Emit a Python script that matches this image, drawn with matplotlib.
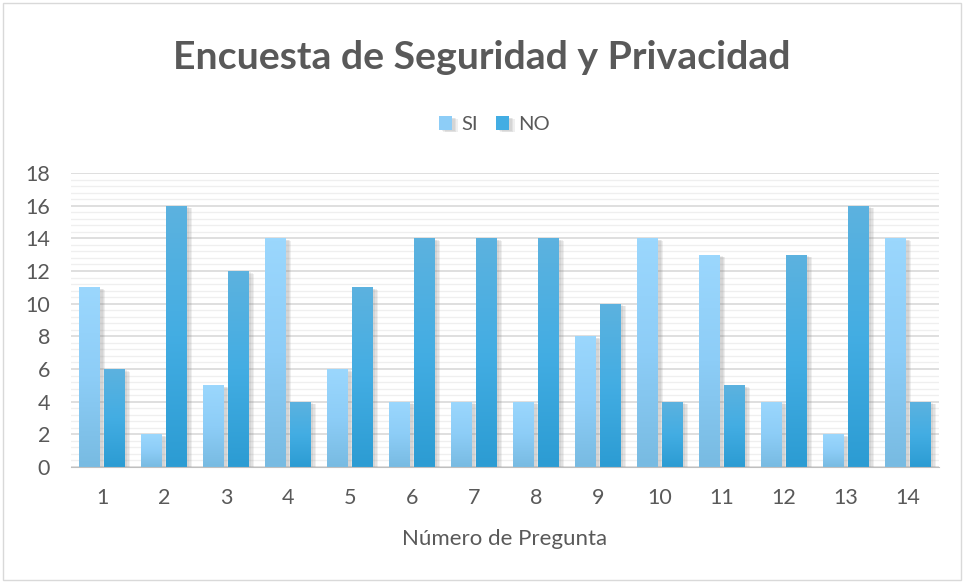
import matplotlib
matplotlib.use("Agg")
import matplotlib.pyplot as plt
import matplotlib.patheffects as pe
from matplotlib.colors import LinearSegmentedColormap
from matplotlib.patches import Rectangle
from matplotlib.ticker import MultipleLocator
import numpy as np

plt.rcParams['font.family'] = ['Lato', 'DejaVu Sans']

preguntas = [str(i) for i in range(1, 15)]
si = [11, 2, 5, 14, 6, 4, 4, 4, 8, 14, 13, 4, 2, 14]
no = [6, 16, 12, 4, 11, 14, 14, 14, 10, 4, 5, 13, 16, 4]

txt = '#595959'
cm_si = LinearSegmentedColormap.from_list('si', ['#78bbe2', '#8dcdf7', '#9bd7fd'])
cm_no = LinearSegmentedColormap.from_list('no', ['#2c9cd3', '#43ade3', '#5cb2df'])

fig = plt.figure(figsize=(9.64, 5.82), dpi=100)
ax = fig.add_axes([0.0737, 0.1976, 0.9003, 0.5051])

x = np.arange(len(preguntas))
w = 0.33
shadow = [pe.SimplePatchShadow(offset=(d, -d * 0.5), shadow_rgbFace='#808080', alpha=0.12)
          for d in (4, 3, 2)] + [pe.Normal()]

grad = np.linspace(0, 1, 64).reshape(-1, 1)
for vals, off, cm, lab, col in [(si, -0.2, cm_si, 'SI', '#8dcdf7'),
                                (no, 0.2, cm_no, 'NO', '#43ade3')]:
    bars = ax.bar(x + off, vals, width=w, color=col, label=lab, zorder=3,
                  path_effects=shadow)
    for b in bars:
        x0, y0 = b.get_x(), b.get_y()
        im = ax.imshow(grad, extent=[x0, x0 + b.get_width(), y0, y0 + b.get_height()],
                       origin='lower', aspect='auto', cmap=cm, zorder=4,
                       interpolation='bilinear')
        im.set_clip_path(b)

ax.set_xlim(-0.5, len(preguntas) - 0.5)
ax.set_ylim(0, 18)
ax.yaxis.set_major_locator(MultipleLocator(2))
ax.yaxis.set_minor_locator(MultipleLocator(0.4))
ax.grid(axis='y', which='major', color='#d9d9d9', linewidth=1.2, zorder=0)
ax.grid(axis='y', which='minor', color='#efefef', linewidth=0.9, zorder=0)
ax.set_axisbelow(True)
ax.set_xticks(x)
ax.set_xticklabels(preguntas)
ax.tick_params(axis='both', which='both', length=0, labelsize=15.5, colors=txt)
ax.tick_params(axis='y', pad=15)
ax.tick_params(axis='x', pad=15)
for s in ['top', 'right', 'left']:
    ax.spines[s].set_visible(False)
ax.spines['bottom'].set_color('#bfbfbf')
ax.spines['bottom'].set_zorder(5)

ax.set_xlabel('Número de Pregunta', fontsize=16, color=txt, labelpad=15)
fig.text(0.5, 0.902, 'Encuesta de Seguridad y Privacidad', ha='center', va='center',
         fontsize=28.3, fontweight='bold', color=txt)
leg = fig.legend(loc='center', bbox_to_anchor=(0.513, 0.786), ncol=2, frameon=False,
                 fontsize=14.5, handlelength=0.65, handleheight=0.65, handletextpad=0.45,
                 columnspacing=0.9, labelcolor=txt)

fig.patches.append(Rectangle((0.003, 0.004), 0.994, 0.99, transform=fig.transFigure,
                             fill=False, edgecolor='#d9d9d9', linewidth=1))

fig.savefig('out.png', dpi=100)
